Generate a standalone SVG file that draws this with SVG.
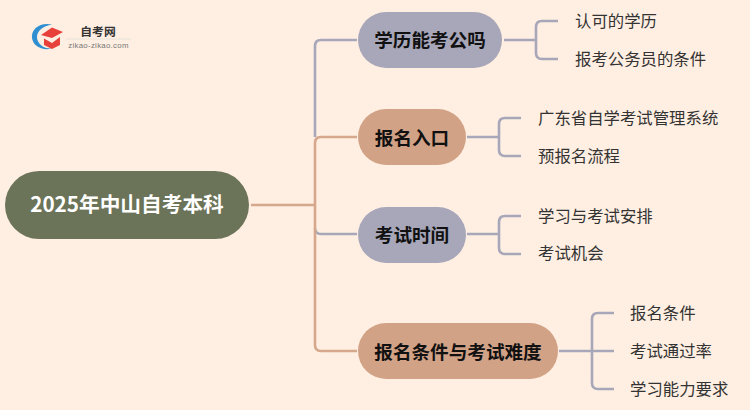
<svg xmlns="http://www.w3.org/2000/svg" width="750" height="410" viewBox="0 0 750 410">
<style>
text{font-family:"Noto Sans CJK SC","Liberation Sans",sans-serif}
.c{fill:none;stroke-width:2.6}
.b{stroke:#a7a7b9}
.o{stroke:#d5a78d}
.t{font-size:18.600px;font-weight:700;fill:#111;dominant-baseline:central}
.l{font-size:16.400px;fill:#333;dominant-baseline:central}
</style>
<rect width="750" height="410" fill="#ffefe2"/>
<g id="logo">
<path d="M52 24.500C40 22 31 29 32 38C33 46 42 51 52 48.500C44 49 37 44 37 37C37 31 43 26 52 24.500Z" fill="#2f8fd0"/>
<path d="M41 35L52 27.500L63 32L52 38Z" fill="#e8403a"/>
<path d="M44 38.500L52 43L60 37V45L52 49L44 45Z" fill="#e8403a"/>
<text x="98" y="30.500" text-anchor="middle" style="font-size:11.800px;font-weight:700;fill:#333;dominant-baseline:central">自考网</text>
<line x1="66" y1="39" x2="131" y2="39" stroke="#e8e2da" stroke-width="1"/>
<text x="98.500" y="45" text-anchor="middle" style="font-family:'Liberation Sans',sans-serif;font-size:7.800px;fill:#777;dominant-baseline:central;letter-spacing:.3px">zikao-zikao.com</text>
</g>
<g id="connectors">
<path class="c o" d="M251 205H315"/>
<path class="c b" d="M315 137V46Q315 40 321 40H357"/>
<path class="c o" d="M315 205V143Q315 137 321 137H357"/>
<path class="c b" d="M315 228Q315 234 321 234H357"/>
<path class="c o" d="M315 205V345Q315 351 321 351H357"/>
<path class="c b" d="M504 40H536M558 21H542Q536 21 536 27V53Q536 59 542 59H558"/>
<path class="c b" d="M467 137H499M521 118H505Q499 118 499 124V150Q499 156 505 156H521"/>
<path class="c b" d="M467 234H499M521 216H505Q499 216 499 222V248Q499 254 505 254H521"/>
<path class="c b" d="M559 351H614M614 313H598Q592 313 592 319V383Q592 389 598 389H614"/>
</g>
<g id="root"><rect x="5" y="171" width="244" height="68" rx="34" fill="#6b7358"/><text x="127" y="203" text-anchor="middle" style="font-size:20.700px;font-weight:700;fill:#fff;dominant-baseline:central">2025年中山自考本科</text></g>
<g id="n1"><rect x="358" y="12" width="144" height="56" rx="28" fill="#a7a7b9"/><text class="t" x="430" y="38.500" text-anchor="middle">学历能考公吗</text></g>
<g id="n2"><rect x="358" y="109" width="108" height="56" rx="28" fill="#d2a286"/><text class="t" x="412" y="136" text-anchor="middle">报名入口</text></g>
<g id="n3"><rect x="358" y="207" width="108" height="56" rx="28" fill="#a7a7b9"/><text class="t" x="412" y="233.500" text-anchor="middle">考试时间</text></g>
<g id="n4"><rect x="358" y="323" width="200" height="56" rx="28" fill="#d2a286"/><text class="t" x="458" y="350" text-anchor="middle">报名条件与考试难度</text></g>
<g id="l1"><text class="l" x="575" y="19.500">认可的学历</text></g>
<g id="l2"><text class="l" x="575" y="57.500">报考公务员的条件</text></g>
<g id="l3"><text class="l" x="538" y="117">广东省自学考试管理系统</text></g>
<g id="l4"><text class="l" x="538" y="154.500">预报名流程</text></g>
<g id="l5"><text class="l" x="538" y="214.500">学习与考试安排</text></g>
<g id="l6"><text class="l" x="538" y="252">考试机会</text></g>
<g id="l7"><text class="l" x="630" y="312">报名条件</text></g>
<g id="l8"><text class="l" x="630" y="350">考试通过率</text></g>
<g id="l9"><text class="l" x="630" y="387.500">学习能力要求</text></g>
</svg>
